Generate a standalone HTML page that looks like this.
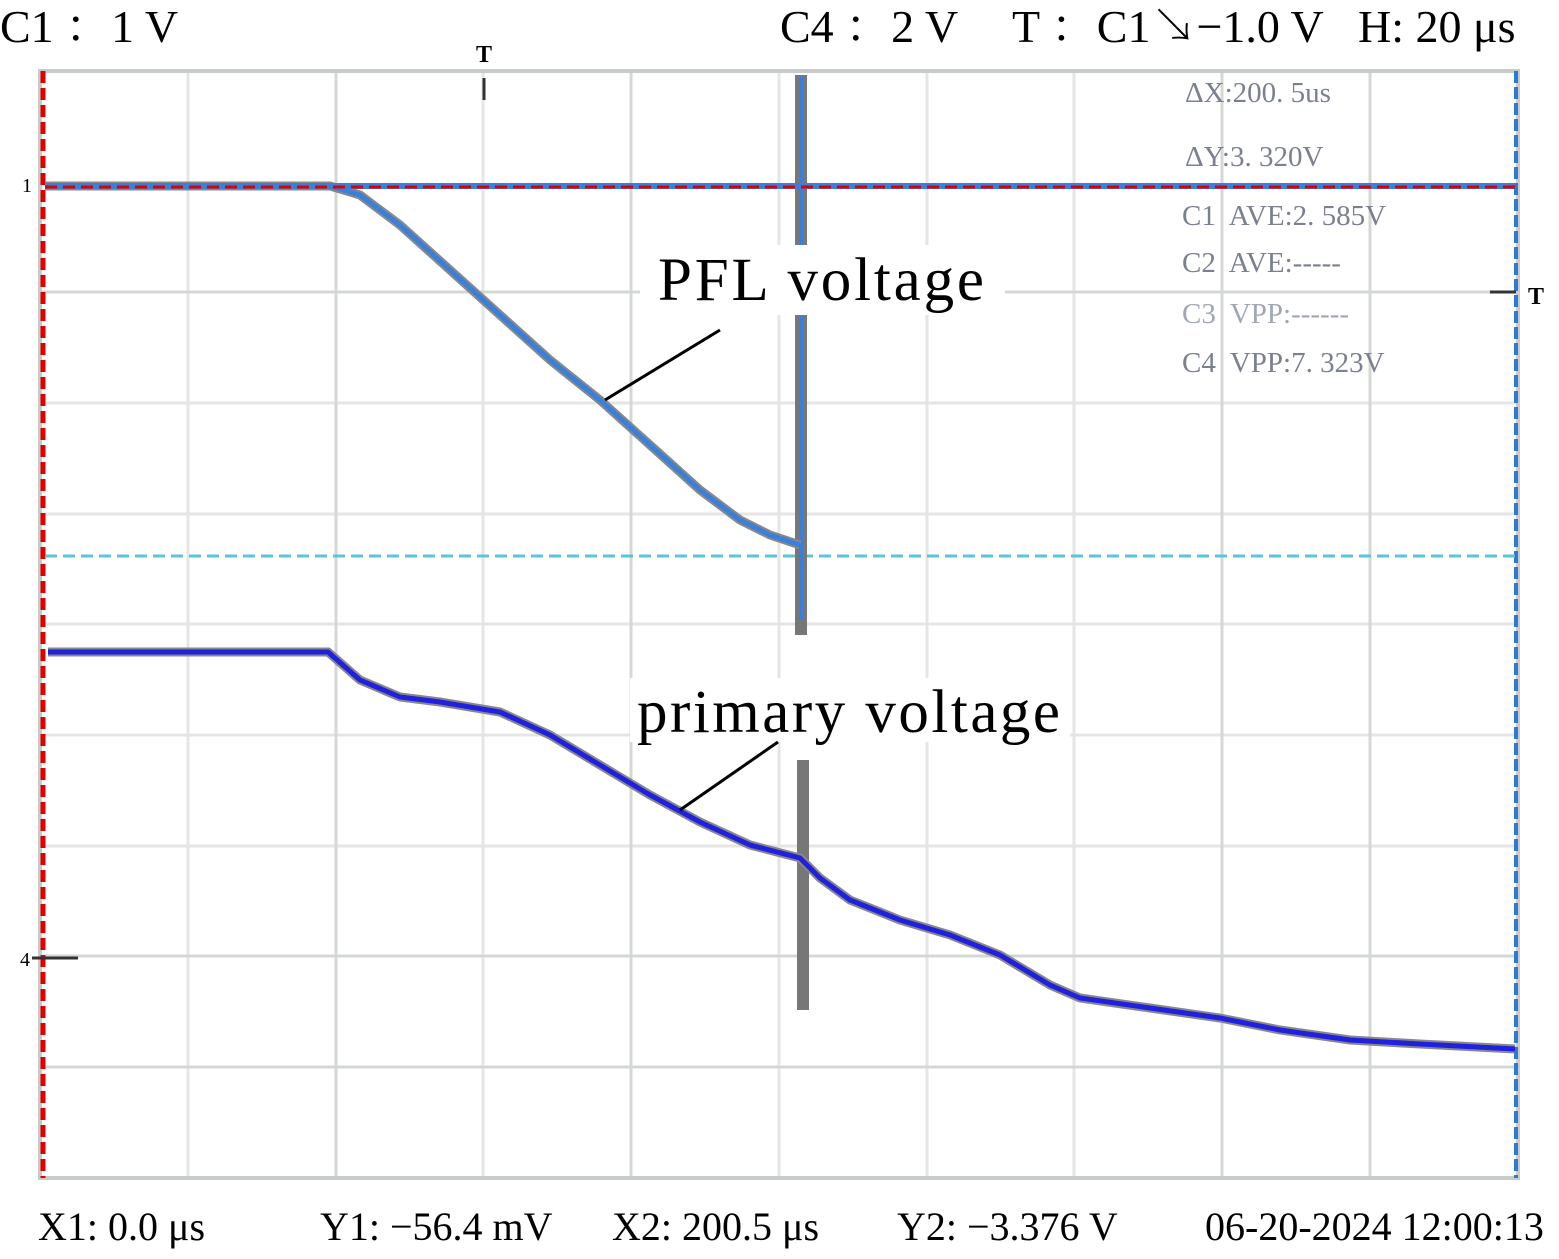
<!DOCTYPE html>
<html><head><meta charset="utf-8"><style>
body{margin:0;background:#fff}
svg text{font-family:"Liberation Serif","Noto Serif CJK SC",serif;fill:#000}
</style></head><body>
<svg width="1559" height="1254" viewBox="0 0 1559 1254" xmlns="http://www.w3.org/2000/svg">
<rect width="1559" height="1254" fill="#fff"/>
<g stroke="#e4e6e4" stroke-width="3">
<line x1="188" y1="71" x2="188" y2="1178"/><line x1="483" y1="71" x2="483" y2="1178"/>
<line x1="779" y1="71" x2="779" y2="1178"/><line x1="927" y1="71" x2="927" y2="1178"/>
<line x1="1074" y1="71" x2="1074" y2="1178"/>
<line x1="40" y1="403" x2="1518" y2="403"/>
<line x1="40" y1="514" x2="1518" y2="514"/><line x1="40" y1="624" x2="1518" y2="624"/>
<line x1="40" y1="735" x2="1518" y2="735"/><line x1="40" y1="846" x2="1518" y2="846"/>
</g>
<g stroke="#d4d8d4" stroke-width="3">
<line x1="336" y1="71" x2="336" y2="1178"/><line x1="631" y1="71" x2="631" y2="1178"/>
<line x1="1222" y1="71" x2="1222" y2="1178"/><line x1="1370" y1="71" x2="1370" y2="1178"/>
<line x1="40" y1="292" x2="1518" y2="292"/>
<line x1="40" y1="956" x2="1518" y2="956"/><line x1="40" y1="1067" x2="1518" y2="1067"/>
</g>
<rect x="40" y="71" width="1478" height="1107" fill="none" stroke="#c8ccc8" stroke-width="4"/>
<line x1="43" y1="71" x2="43" y2="1178" stroke="#e00000" stroke-width="5" stroke-dasharray="12,5"/>
<line x1="1516" y1="71" x2="1516" y2="1178" stroke="#2a7ad8" stroke-width="4" stroke-dasharray="12,4"/>
<line x1="45" y1="556" x2="1515" y2="556" stroke="#5cc4d8" stroke-width="3" stroke-dasharray="12,6"/>
<rect x="795" y="75" width="12" height="560" fill="#777"/>
<line x1="801" y1="75" x2="801" y2="620" stroke="#3a80d8" stroke-width="4"/>
<polyline fill="none" stroke="#888" stroke-width="9" points="45,186 330,186 360,195 400,225 450,270 500,315 550,360 600,400 650,445 700,490 740,520 770,535 800,545"/>
<polyline fill="none" stroke="#3a80d8" stroke-width="5" points="45,186 330,186 360,195 400,225 450,270 500,315 550,360 600,400 650,445 700,490 740,520 770,535 800,545"/>
<line x1="45" y1="186" x2="1515" y2="186" stroke="#3a80d8" stroke-width="6"/>
<line x1="45" y1="187" x2="1515" y2="187" stroke="#e00000" stroke-width="3" stroke-dasharray="12,6"/>
<rect x="797" y="760" width="12" height="250" fill="#777"/>
<polyline fill="none" stroke="#888" stroke-width="9" points="48,652 328,652 360,680 400,697 440,702 500,712 550,735 600,765 650,795 700,822 750,845 800,858 820,878 850,900 900,920 950,935 1000,955 1050,985 1080,998 1150,1008 1220,1018 1280,1030 1350,1040 1420,1044 1515,1049"/>
<polyline fill="none" stroke="#2020e0" stroke-width="5" points="48,652 328,652 360,680 400,697 440,702 500,712 550,735 600,765 650,795 700,822 750,845 800,858 820,878 850,900 900,920 950,935 1000,955 1050,985 1080,998 1150,1008 1220,1018 1280,1030 1350,1040 1420,1044 1515,1049"/>
<text x="22" y="192" font-size="20">1</text>
<text x="20" y="966" font-size="20">4</text>
<line x1="32" y1="958" x2="78" y2="958" stroke="#333" stroke-width="3"/>
<text x="476" y="62" font-size="24" font-family="Liberation Sans" font-weight="bold">T</text>
<line x1="484" y1="78" x2="484" y2="100" stroke="#333" stroke-width="3"/>
<line x1="1490" y1="292" x2="1516" y2="292" stroke="#333" stroke-width="3"/>
<text x="1528" y="304" font-size="24" font-family="Liberation Sans" font-weight="bold">T</text>
<g font-size="29">
<text x="1185" y="102" style="fill:#7a8090">ΔX:200. 5us</text>
<text x="1185" y="166" style="fill:#7a8090">ΔY:3. 320V</text>
<text x="1182" y="225" style="fill:#7a8090" xml:space="preserve">C1  AVE:2. 585V</text>
<text x="1182" y="272" style="fill:#7a8090" xml:space="preserve">C2  AVE:-----</text>
<text x="1182" y="323" style="fill:#a0a6b4" xml:space="preserve">C3  VPP:------</text>
<text x="1182" y="372" style="fill:#7a8090" xml:space="preserve">C4  VPP:7. 323V</text>
</g>
<rect x="640" y="245" width="365" height="70" fill="#fff"/>
<text x="658" y="300" font-size="61" textLength="326">PFL voltage</text>
<line x1="720" y1="330" x2="605" y2="400" stroke="#000" stroke-width="3"/>
<rect x="630" y="678" width="440" height="64" fill="#fff"/>
<text x="637" y="732" font-size="61" textLength="423">primary voltage</text>
<line x1="778" y1="742" x2="680" y2="810" stroke="#000" stroke-width="3"/>
<text x="0" y="42" font-size="46" xml:space="preserve">C1 ：1 V</text>
<text x="780" y="42" font-size="46">C4 ：2 V</text>
<text x="1012" y="42" font-size="46">T ：C1↘−1.0 V</text>
<text x="1358" y="42" font-size="46">H: 20 μs</text>
<text x="38" y="1240" font-size="40">X1: 0.0 μs</text>
<text x="320" y="1240" font-size="40">Y1: −56.4 mV</text>
<text x="612" y="1240" font-size="40">X2: 200.5 μs</text>
<text x="897" y="1240" font-size="40">Y2: −3.376 V</text>
<text x="1205" y="1240" font-size="40">06-20-2024 12:00:13</text>
</svg>
</body></html>
